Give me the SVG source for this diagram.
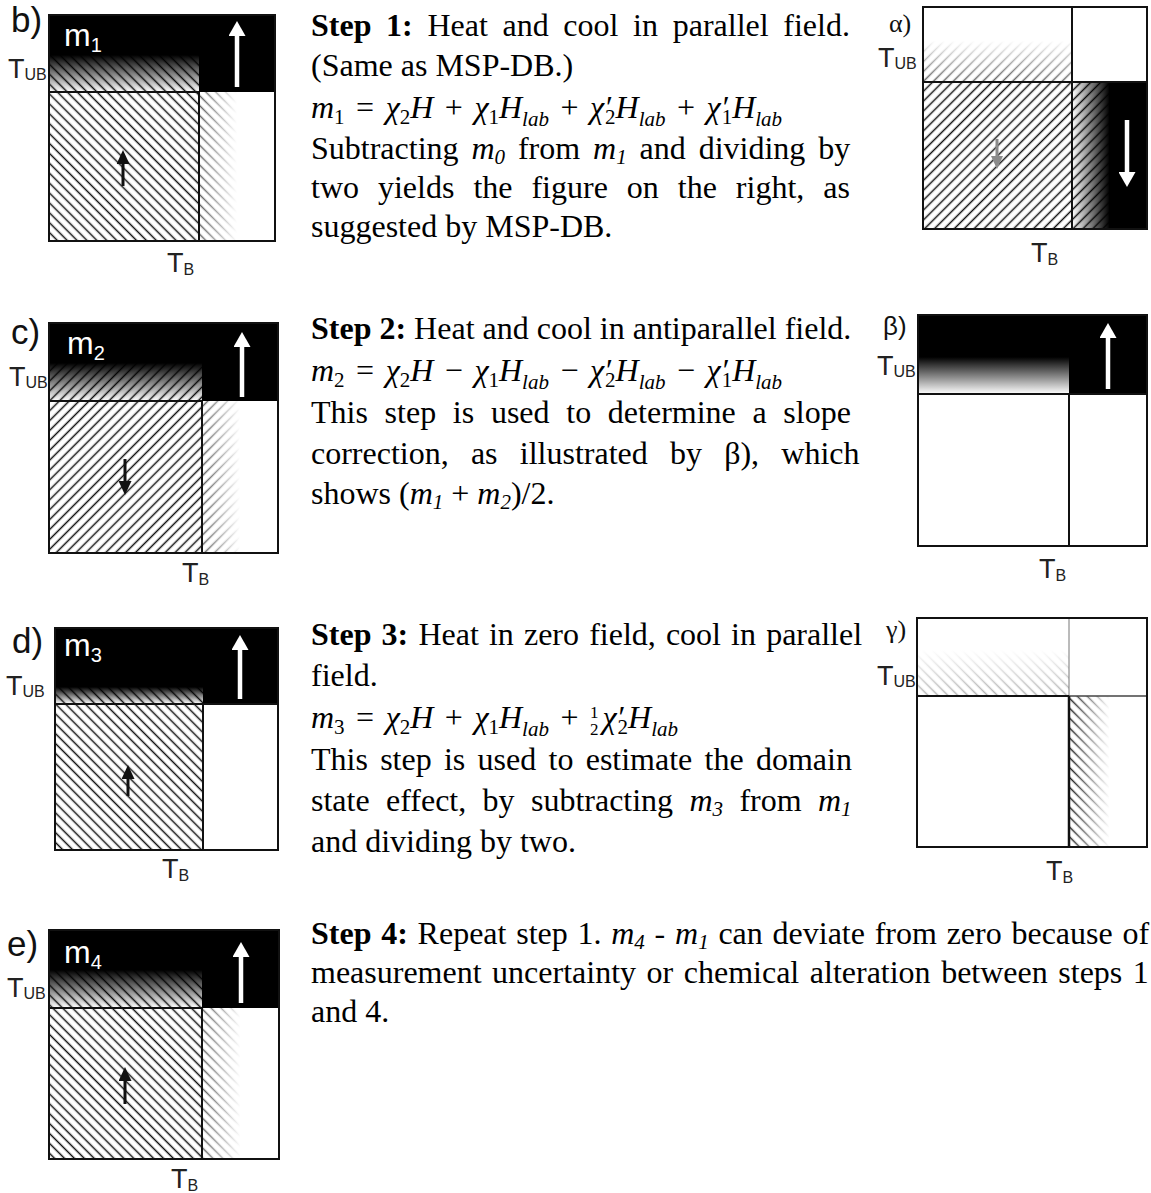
<svg xmlns="http://www.w3.org/2000/svg" width="1151" height="1193" viewBox="0 0 1151 1193">
<style>
.tx{font-family:"Liberation Serif","Times New Roman",serif;font-size:32px;fill:#000}
.eq{word-spacing:3.5px}
.b{font-weight:bold}
.i{font-style:italic}
.sb{font-size:21px}
.sbi{font-size:21px;font-style:italic}
.fr{font-size:17px}
.lbl{font-family:"Liberation Sans",Arial,sans-serif;font-size:35px;fill:#111}
.gk{font-family:"Liberation Serif","Times New Roman",serif;font-size:26px;fill:#111}
.gks{font-family:"Liberation Sans",Arial,sans-serif;font-size:26px;fill:#111}
.m{font-family:"Liberation Sans",Arial,sans-serif;font-size:32px;fill:#fff}
.ms{font-size:20px}
.t{font-family:"Liberation Sans",Arial,sans-serif;font-size:27px;fill:#222}
.ts{font-size:16px}
.fr2{fill:none;stroke:#111;stroke-width:2}
.dv{stroke:#111;stroke-width:2}
.aw{stroke:#fff;stroke-width:4.5;marker-end:url(#mw)}
.ak{stroke:#111;stroke-width:3;marker-end:url(#mk)}
.ag{stroke:#8a8a8a;stroke-width:3;marker-end:url(#mg)}
</style>
<defs>
<pattern id="hb" patternUnits="userSpaceOnUse" width="7" height="7" patternTransform="rotate(-45)"><line x1="3.5" y1="-1" x2="3.5" y2="8" stroke="#111" stroke-width="1.5"/></pattern>
<pattern id="hf" patternUnits="userSpaceOnUse" width="7" height="7" patternTransform="rotate(45)"><line x1="3.5" y1="-1" x2="3.5" y2="8" stroke="#111" stroke-width="1.5"/></pattern>
<pattern id="hbg" patternUnits="userSpaceOnUse" width="7" height="7" patternTransform="rotate(-45)"><line x1="3.5" y1="-1" x2="3.5" y2="8" stroke="#9a9a9a" stroke-width="1.5"/></pattern>
<linearGradient id="kDown" x1="0" y1="0" x2="0" y2="1"><stop offset="0" stop-color="#000"/><stop offset="1" stop-color="#000" stop-opacity="0"/></linearGradient>
<linearGradient id="wRight" x1="0" y1="0" x2="1" y2="0"><stop offset="0" stop-color="#fff" stop-opacity="0.3"/><stop offset="0.5" stop-color="#fff"/><stop offset="1" stop-color="#fff"/></linearGradient>
<linearGradient id="wRight2" x1="0" y1="0" x2="1" y2="0"><stop offset="0" stop-color="#fff" stop-opacity="0"/><stop offset="0.52" stop-color="#fff"/><stop offset="1" stop-color="#fff"/></linearGradient>
<linearGradient id="kRight" x1="0" y1="0" x2="1" y2="0"><stop offset="0" stop-color="#000" stop-opacity="0"/><stop offset="0.5" stop-color="#000"/><stop offset="1" stop-color="#000"/></linearGradient>
<linearGradient id="wUp" x1="0" y1="0" x2="0" y2="1"><stop offset="0.45" stop-color="#fff"/><stop offset="1" stop-color="#fff" stop-opacity="0.3"/></linearGradient>
<linearGradient id="wUpG" x1="0" y1="0" x2="0" y2="1"><stop offset="0" stop-color="#fff"/><stop offset="1" stop-color="#fff" stop-opacity="0.2"/></linearGradient>
<marker id="mw" markerUnits="userSpaceOnUse" markerWidth="15" markerHeight="17" refX="0" refY="8.5" orient="auto" viewBox="0 0 15 17"><path d="M0,0 L15,8.5 L0,17 z" fill="#fff"/></marker>
<marker id="mk" markerUnits="userSpaceOnUse" markerWidth="14" markerHeight="13" refX="0" refY="6.5" orient="auto" viewBox="0 0 14 13"><path d="M0,0 L14,6.5 L0,13 z" fill="#111"/></marker>
<marker id="mg" markerUnits="userSpaceOnUse" markerWidth="13" markerHeight="12" refX="0" refY="6" orient="auto" viewBox="0 0 13 12"><path d="M0,0 L13,6 L0,12 z" fill="#8a8a8a"/></marker>
</defs>
<rect width="1151" height="1193" fill="#fff"/>

<g id="panel-b">
<rect x="49" y="15" width="226" height="77" fill="#000"/>
<rect x="49" y="55" width="150" height="37" fill="#fff"/>
<rect x="49" y="55" width="150" height="37" fill="url(#hb)"/>
<rect x="49" y="55" width="150" height="37" fill="url(#kDown)"/>
<rect x="49" y="92" width="150" height="149" fill="url(#hb)"/>
<rect x="199" y="92" width="76" height="149" fill="url(#hb)"/>
<rect x="199" y="92" width="76" height="149" fill="url(#wRight)"/>
<line class="dv" x1="49" y1="92" x2="199" y2="92"/>
<line class="dv" x1="199" y1="92" x2="199" y2="241"/>
<rect class="fr2" x="49" y="15" width="226" height="226"/>
<line class="aw" x1="237" y1="87" x2="237" y2="36"/>
<line class="ak" x1="123" y1="186" x2="123" y2="164"/>
<text class="lbl" x="11" y="32">b)</text>
<text class="m" x="64" y="46">m<tspan class="ms" dy="6">1</tspan></text>
<text class="t" x="8" y="78">T<tspan class="ts" dy="2">UB</tspan></text>
<text class="t" x="167" y="272">T<tspan class="ts" dy="3">B</tspan></text>
</g>

<g id="panel-alpha">
<rect x="923" y="7" width="149" height="75" fill="url(#hf)"/>
<rect x="923" y="7" width="149" height="75" fill="url(#wUp)"/>
<rect x="923" y="82" width="149" height="147" fill="url(#hf)"/>
<rect x="1072" y="82" width="75" height="147" fill="url(#hf)"/>
<rect x="1072" y="82" width="75" height="147" fill="url(#kRight)"/>
<line class="dv" x1="923" y1="82" x2="1147" y2="82"/>
<line class="dv" x1="1072" y1="7" x2="1072" y2="229"/>
<rect class="fr2" x="923" y="7" width="224" height="222"/>
<line class="ag" x1="997" y1="139" x2="997" y2="156"/>
<line class="aw" x1="1127" y1="120" x2="1127" y2="172"/>
<text class="gk" x="889" y="32">α)</text>
<text class="t" x="878" y="67">T<tspan class="ts" dy="2">UB</tspan></text>
<text class="t" x="1031" y="262">T<tspan class="ts" dy="3">B</tspan></text>
</g>

<g id="text-step1">
<text class="tx" x="311" y="36" word-spacing="6.66"><tspan class="b">Step 1:</tspan> Heat and cool in parallel field.</text>
<text class="tx" x="311" y="76">(Same as MSP-DB.)</text>
<text class="tx eq" x="311" y="118"><tspan class="i">m</tspan><tspan class="sb" dy="6">1</tspan><tspan dy="-6"> = </tspan><tspan class="i">χ</tspan><tspan class="sb" dy="6">2</tspan><tspan class="i" dy="-6">H</tspan><tspan> + </tspan><tspan class="i">χ</tspan><tspan class="sb" dy="6">1</tspan><tspan class="i" dy="-6">H</tspan><tspan class="sbi" dy="8">lab</tspan><tspan dy="-8"> + </tspan><tspan class="i">χ′</tspan><tspan class="sb" dx="-6" dy="6">2</tspan><tspan class="i" dy="-6">H</tspan><tspan class="sbi" dy="8">lab</tspan><tspan dy="-8"> + </tspan><tspan class="i">χ′</tspan><tspan class="sb" dx="-6" dy="6">1</tspan><tspan class="i" dy="-6">H</tspan><tspan class="sbi" dy="8">lab</tspan></text>
<text class="tx" x="311" y="159" word-spacing="4.9">Subtracting <tspan class="i">m</tspan><tspan class="sbi" dy="5">0</tspan><tspan dy="-5"> from </tspan><tspan class="i">m</tspan><tspan class="sbi" dy="5">1</tspan><tspan dy="-5"> and dividing by</tspan></text>
<text class="tx" x="311" y="198" word-spacing="10.97">two yields the figure on the right, as</text>
<text class="tx" x="311" y="237">suggested by MSP-DB.</text>
</g>

<g id="panel-c">
<rect x="49" y="323" width="229" height="78" fill="#000"/>
<rect x="49" y="363" width="153" height="38" fill="#fff"/>
<rect x="49" y="363" width="153" height="38" fill="url(#hf)"/>
<rect x="49" y="363" width="153" height="38" fill="url(#kDown)"/>
<rect x="49" y="401" width="153" height="152" fill="url(#hf)"/>
<rect x="202" y="401" width="76" height="152" fill="url(#hf)"/>
<rect x="202" y="401" width="76" height="152" fill="url(#wRight)"/>
<line class="dv" x1="49" y1="401" x2="202" y2="401"/>
<line class="dv" x1="202" y1="401" x2="202" y2="553"/>
<rect class="fr2" x="49" y="323" width="229" height="230"/>
<line class="aw" x1="242" y1="397" x2="242" y2="347"/>
<line class="ak" x1="125" y1="459" x2="125" y2="481"/>
<text class="lbl" x="11" y="344">c)</text>
<text class="m" x="67" y="354">m<tspan class="ms" dy="6">2</tspan></text>
<text class="t" x="9" y="386">T<tspan class="ts" dy="2">UB</tspan></text>
<text class="t" x="182" y="582">T<tspan class="ts" dy="3">B</tspan></text>
</g>

<g id="panel-beta">
<rect x="918" y="315" width="229" height="79" fill="#000"/>
<rect x="918" y="357" width="151" height="37" fill="#fff"/>
<rect x="918" y="357" width="151" height="37" fill="url(#kDown)"/>
<line class="dv" x1="918" y1="394" x2="1147" y2="394"/>
<line class="dv" x1="1069" y1="394" x2="1069" y2="546"/>
<rect class="fr2" x="918" y="315" width="229" height="231"/>
<line class="aw" x1="1108" y1="389" x2="1108" y2="338"/>
<text class="gks" x="883" y="335">β)</text>
<text class="t" x="877" y="375">T<tspan class="ts" dy="2">UB</tspan></text>
<text class="t" x="1039" y="578">T<tspan class="ts" dy="3">B</tspan></text>
</g>

<g id="text-step2">
<text class="tx" x="311" y="339"><tspan class="b">Step 2:</tspan> Heat and cool in antiparallel field.</text>
<text class="tx eq" x="311" y="381"><tspan class="i">m</tspan><tspan class="sb" dy="6">2</tspan><tspan dy="-6"> = </tspan><tspan class="i">χ</tspan><tspan class="sb" dy="6">2</tspan><tspan class="i" dy="-6">H</tspan><tspan> − </tspan><tspan class="i">χ</tspan><tspan class="sb" dy="6">1</tspan><tspan class="i" dy="-6">H</tspan><tspan class="sbi" dy="8">lab</tspan><tspan dy="-8"> − </tspan><tspan class="i">χ′</tspan><tspan class="sb" dx="-6" dy="6">2</tspan><tspan class="i" dy="-6">H</tspan><tspan class="sbi" dy="8">lab</tspan><tspan dy="-8"> − </tspan><tspan class="i">χ′</tspan><tspan class="sb" dx="-6" dy="6">1</tspan><tspan class="i" dy="-6">H</tspan><tspan class="sbi" dy="8">lab</tspan></text>
<text class="tx" x="311" y="423" word-spacing="8.7">This step is used to determine a slope</text>
<text class="tx" x="311" y="464" word-spacing="14.2">correction, as illustrated by β), which</text>
<text class="tx" x="311" y="504">shows (<tspan class="i">m</tspan><tspan class="sbi" dy="5">1</tspan><tspan dy="-5"> + </tspan><tspan class="i">m</tspan><tspan class="sbi" dy="5">2</tspan><tspan dy="-5">)/2.</tspan></text>
</g>

<g id="panel-d">
<rect x="55" y="628" width="223" height="76" fill="#000"/>
<rect x="55" y="687" width="148" height="17" fill="#fff"/>
<rect x="55" y="687" width="148" height="17" fill="url(#hb)"/>
<rect x="55" y="687" width="148" height="17" fill="url(#kDown)"/>
<rect x="55" y="704" width="148" height="146" fill="url(#hb)"/>
<line class="dv" x1="55" y1="704" x2="278" y2="704"/>
<line class="dv" x1="203" y1="704" x2="203" y2="850"/>
<rect class="fr2" x="55" y="628" width="223" height="222"/>
<line class="aw" x1="240" y1="699" x2="240" y2="650"/>
<line class="ak" x1="128" y1="796" x2="128" y2="779"/>
<text class="lbl" x="12" y="653">d)</text>
<text class="m" x="64" y="656">m<tspan class="ms" dy="6">3</tspan></text>
<text class="t" x="6" y="695">T<tspan class="ts" dy="2">UB</tspan></text>
<text class="t" x="162" y="878">T<tspan class="ts" dy="3">B</tspan></text>
</g>

<g id="panel-gamma">
<rect x="917" y="650" width="152" height="46" fill="url(#hbg)"/>
<rect x="917" y="650" width="152" height="46" fill="url(#wUpG)"/>
<rect x="1069" y="696" width="78" height="151" fill="url(#hb)"/>
<rect x="1069" y="696" width="78" height="151" fill="url(#wRight2)"/>
<line x1="1069" y1="618" x2="1069" y2="696" stroke="#777" stroke-width="1"/>
<line x1="1069" y1="696" x2="1147" y2="696" stroke="#444" stroke-width="1.3"/>
<line class="dv" x1="917" y1="696" x2="1069" y2="696"/>
<line x1="1069" y1="696" x2="1069" y2="847" stroke="#111" stroke-width="2.5"/>
<rect class="fr2" x="917" y="618" width="230" height="229"/>
<text class="gk" x="886" y="638">γ)</text>
<text class="t" x="877" y="685">T<tspan class="ts" dy="2">UB</tspan></text>
<text class="t" x="1046" y="880">T<tspan class="ts" dy="3">B</tspan></text>
</g>

<g id="text-step3">
<text class="tx" x="311" y="645" word-spacing="2.13"><tspan class="b">Step 3:</tspan> Heat in zero field, cool in parallel</text>
<text class="tx" x="311" y="686">field.</text>
<text class="tx eq" x="311" y="728"><tspan class="i">m</tspan><tspan class="sb" dy="6">3</tspan><tspan dy="-6"> = </tspan><tspan class="i">χ</tspan><tspan class="sb" dy="6">2</tspan><tspan class="i" dy="-6">H</tspan><tspan> + </tspan><tspan class="i">χ</tspan><tspan class="sb" dy="6">1</tspan><tspan class="i" dy="-6">H</tspan><tspan class="sbi" dy="8">lab</tspan><tspan dy="-8"> + </tspan><tspan class="fr" dy="-10">1</tspan><tspan class="fr" dx="-8.5" dy="17">2</tspan><tspan class="i" dx="4" dy="-7">χ′</tspan><tspan class="sb" dx="-6" dy="6">2</tspan><tspan class="i" dy="-6">H</tspan><tspan class="sbi" dy="8">lab</tspan></text>
<text class="tx" x="311" y="770" word-spacing="4.27">This step is used to estimate the domain</text>
<text class="tx" x="311" y="811" word-spacing="8.35">state effect, by subtracting <tspan class="i">m</tspan><tspan class="sbi" dy="5">3</tspan><tspan dy="-5"> from </tspan><tspan class="i">m</tspan><tspan class="sbi" dy="5">1</tspan></text>
<text class="tx" x="311" y="852">and dividing by two.</text>
</g>

<g id="panel-e">
<rect x="49" y="930" width="230" height="78" fill="#000"/>
<rect x="49" y="970" width="153" height="38" fill="#fff"/>
<rect x="49" y="970" width="153" height="38" fill="url(#hb)"/>
<rect x="49" y="970" width="153" height="38" fill="url(#kDown)"/>
<rect x="49" y="1008" width="153" height="151" fill="url(#hb)"/>
<rect x="202" y="1008" width="77" height="151" fill="url(#hb)"/>
<rect x="202" y="1008" width="77" height="151" fill="url(#wRight)"/>
<line class="dv" x1="49" y1="1008" x2="202" y2="1008"/>
<line class="dv" x1="202" y1="1008" x2="202" y2="1159"/>
<rect class="fr2" x="49" y="930" width="230" height="229"/>
<line class="aw" x1="241" y1="1003" x2="241" y2="957"/>
<line class="ak" x1="125" y1="1104" x2="125" y2="1081"/>
<text class="lbl" x="7" y="956">e)</text>
<text class="m" x="64" y="963">m<tspan class="ms" dy="6">4</tspan></text>
<text class="t" x="7" y="997">T<tspan class="ts" dy="2">UB</tspan></text>
<text class="t" x="171" y="1188">T<tspan class="ts" dy="3">B</tspan></text>
</g>

<g id="text-step4">
<text class="tx" x="311" y="944" word-spacing="1.75"><tspan class="b">Step 4:</tspan> Repeat step 1. <tspan class="i">m</tspan><tspan class="sbi" dy="5">4</tspan><tspan dy="-5"> - </tspan><tspan class="i">m</tspan><tspan class="sbi" dy="5">1</tspan><tspan dy="-5"> can deviate from zero because of</tspan></text>
<text class="tx" x="311" y="983" word-spacing="2.53">measurement uncertainty or chemical alteration between steps 1</text>
<text class="tx" x="311" y="1022">and 4.</text>
</g>
</svg>
